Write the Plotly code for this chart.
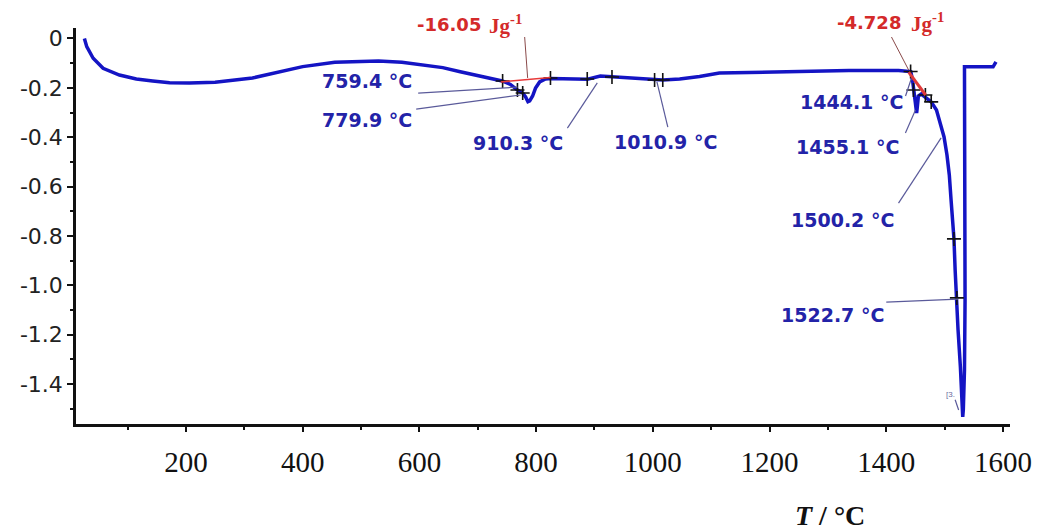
import plotly.graph_objects as go

# ---- DSC curve (temperature in °C, heat-flow signal) ----
temp = [26, 30, 41, 58, 86, 115, 143, 172, 206, 250, 314, 356, 400, 455, 500, 530, 570, 607,
        640, 670, 700, 716, 742, 756, 768, 777, 782, 786, 789, 794, 799, 806, 816, 825, 859,
        888, 910, 930, 961, 995, 1017, 1046, 1080, 1114, 1182, 1250, 1336, 1421, 1442, 1445,
        1448, 1450, 1452, 1453, 1455, 1460, 1467, 1477, 1486, 1492, 1499, 1504, 1508, 1511,
        1514, 1516, 1518, 1520, 1523, 1527, 1529, 1531, 1532, 1534, 1535, 1535, 1535, 1534,
        1534, 1583, 1588]
dsc = [0.0, -0.033, -0.080, -0.121, -0.148, -0.164, -0.172, -0.179, -0.180, -0.177, -0.160,
       -0.137, -0.114, -0.096, -0.091, -0.091, -0.096, -0.107, -0.118, -0.135, -0.150, -0.159,
       -0.172, -0.186, -0.209, -0.221, -0.237, -0.256, -0.253, -0.233, -0.201, -0.176, -0.164,
       -0.162, -0.164, -0.165, -0.152, -0.155, -0.162, -0.168, -0.168, -0.164, -0.154, -0.140,
       -0.136, -0.132, -0.130, -0.130, -0.134, -0.168, -0.229, -0.290, -0.302, -0.282, -0.233,
       -0.225, -0.237, -0.257, -0.290, -0.342, -0.399, -0.472, -0.553, -0.654, -0.756, -0.812,
       -0.938, -1.051, -1.181, -1.331, -1.444, -1.533, -1.505, -1.343, -1.060, -0.796, -0.257,
       -0.200, -0.115, -0.115, -0.095]

# ---- evaluation markers (+) on the curve ----
mark_T = [742.6, 768, 777, 824.6, 887.6, 930, 1003, 1017, 1441.7, 1446.5, 1467, 1477, 1516, 1521]
mark_v = [-0.172, -0.209, -0.221, -0.160, -0.164, -0.156, -0.168, -0.168, -0.134, -0.209,
          -0.229, -0.257, -0.812, -1.051]

# ---- temperature labels ----
lab_text = ["759.4 °C", "779.9 °C", "910.3 °C", "1010.9 °C", "1444.1 °C", "1455.1 °C",
            "1500.2 °C", "1522.7 °C"]
lab_T = [591, 591, 768.6, 1022.3, 1432.8, 1426, 1415.8, 1398.8]
lab_v = [-0.172, -0.330, -0.423, -0.419, -0.257, -0.440, -0.735, -1.120]
lab_anchor = ["right", "right", "center", "center", "right", "right", "right", "right"]
# leader lines: (T0, v0, T1, v1)
lead_lines = [(597.9, -0.221, 768.2, -0.197), (594.5, -0.286, 773.6, -0.229),
              (853.6, -0.363, 904.8, -0.180), (1025.7, -0.359, 1007, -0.176),
              (1433, -0.233, 1443, -0.162), (1432.8, -0.383, 1450, -0.290),
              (1421, -0.667, 1494, -0.403), (1400, -1.068, 1523, -1.056),
              (1518, -1.464, 1524, -1.505)]

# ---- enthalpy labels (vertical position in paper units, above the plot area) ----
enth_value = ["-16.05", "-4.728"]
enth_value_T = [708.9, 1429.4]
enth_unit_T = [715.7, 1439.7]
enth_paper_y = [1.010, 1.013]
enth_base = [(739.4, -0.176, 824.6, -0.158), (1438.4, -0.136, 1467.4, -0.229)]
enth_lead = [(780.4, 0.006, 785.5, -0.160), (1408.9, 0.006, 1438.4, -0.128)]

y_ticks = [0, -0.2, -0.4, -0.6, -0.8, -1.0, -1.2, -1.4]
y_labels = ["0", "-0.2", "-0.4", "-0.6", "-0.8", "-1.0", "-1.2", "-1.4"]
x_ticks = [200, 400, 600, 800, 1000, 1200, 1400, 1600]

fig = go.Figure()
fig.add_trace(go.Scatter(x=temp, y=dsc, mode="lines",
                         line=dict(color="#1414c4", width=3.5), hoverinfo="skip"))
fig.add_trace(go.Scatter(x=mark_T, y=mark_v, mode="markers",
                         marker=dict(symbol="cross-thin", size=10,
                                     line=dict(color="#111111", width=1.6)),
                         hoverinfo="skip"))

shapes = []
for (a, b, c, d) in lead_lines:
    shapes.append(dict(type="line", xref="x", yref="y", x0=a, y0=b, x1=c, y1=d,
                       line=dict(color="#5a5a9a", width=1.2)))
for (a, b, c, d) in enth_lead:
    shapes.append(dict(type="line", xref="x", yref="y", x0=a, y0=b, x1=c, y1=d,
                       line=dict(color="#8a4a4a", width=1)))
shapes.append(dict(type="line", xref="x", yref="y", x0=enth_base[0][0], y0=enth_base[0][1],
                   x1=enth_base[0][2], y1=enth_base[0][3], line=dict(color="#e83a3a", width=1.6)))
shapes.append(dict(type="line", xref="x", yref="y", x0=enth_base[1][0], y0=enth_base[1][1],
                   x1=enth_base[1][2], y1=enth_base[1][3], line=dict(color="#e03a3a", width=3)))

LABEL_FONT = "DejaVu Sans, Liberation Sans, Arial"
ann = []
for t, x, y, anc in zip(lab_text, lab_T, lab_v, lab_anchor):
    ann.append(dict(x=x, y=y, xref="x", yref="y", text="<b>" + t + "</b>", showarrow=False,
                    xanchor=anc, yanchor="middle",
                    font=dict(family=LABEL_FONT, size=19, color="#2323a8")))
for t, xv, xu, y in zip(enth_value, enth_value_T, enth_unit_T, enth_paper_y):
    ann.append(dict(x=xv, y=y, xref="x", yref="paper", showarrow=False, xanchor="right",
                    yanchor="middle", text="<b>" + t + "</b>",
                    font=dict(family=LABEL_FONT, size=18, color="#d42a2a")))
    ann.append(dict(x=xu, y=y, xref="x", yref="paper", showarrow=False, xanchor="left",
                    yanchor="middle", text="<b>Jg<sup>-1</sup></b>",
                    font=dict(family="Liberation Serif, Times New Roman", size=21, color="#d42a2a")))
ann.append(dict(x=1509.6, y=-1.444, xref="x", yref="y", text="[3.", showarrow=False,
                font=dict(family="Liberation Sans, Arial", size=8, color="#6a6aa0")))
ann.append(dict(x=1303, y=-0.2298, xref="x", yref="paper", showarrow=False,
                text="<b><i>T</i> / °C</b>", xanchor="center", yanchor="middle",
                font=dict(family="Liberation Serif, Times New Roman", size=28, color="#111111")))

# the page adds an 8 px body margin; figure is sized so that it fills the window exactly
fig.update_layout(
    width=1036, height=523,
    margin=dict(l=65, r=32, t=20, b=107),
    paper_bgcolor="white", plot_bgcolor="white",
    showlegend=False,
    shapes=shapes, annotations=ann,
    xaxis=dict(range=[11.6, 1612], tickvals=x_ticks, ticks="outside", ticklen=5, tickwidth=2,
               tickcolor="#111", showline=True, linecolor="#111", linewidth=2.5,
               showgrid=False, zeroline=False, ticklabelstandoff=5,
               minor=dict(dtick=100, tick0=0, ticks="outside", ticklen=3, tickwidth=2, tickcolor="#111"),
               tickfont=dict(family="Liberation Serif, Times New Roman", size=29, color="#111")),
    yaxis=dict(range=[-1.562, 0.0425], tickvals=y_ticks, ticktext=y_labels, ticks="outside",
               ticklen=6, tickwidth=2, tickcolor="#111", showline=True, linecolor="#111",
               linewidth=2.5, showgrid=False, zeroline=False,
               minor=dict(dtick=0.1, tick0=0, ticks="outside", ticklen=3, tickwidth=2, tickcolor="#111"),
               tickfont=dict(family="DejaVu Sans, Liberation Sans, Arial", size=22, color="#222")),
)
fig.write_html("out.html")
